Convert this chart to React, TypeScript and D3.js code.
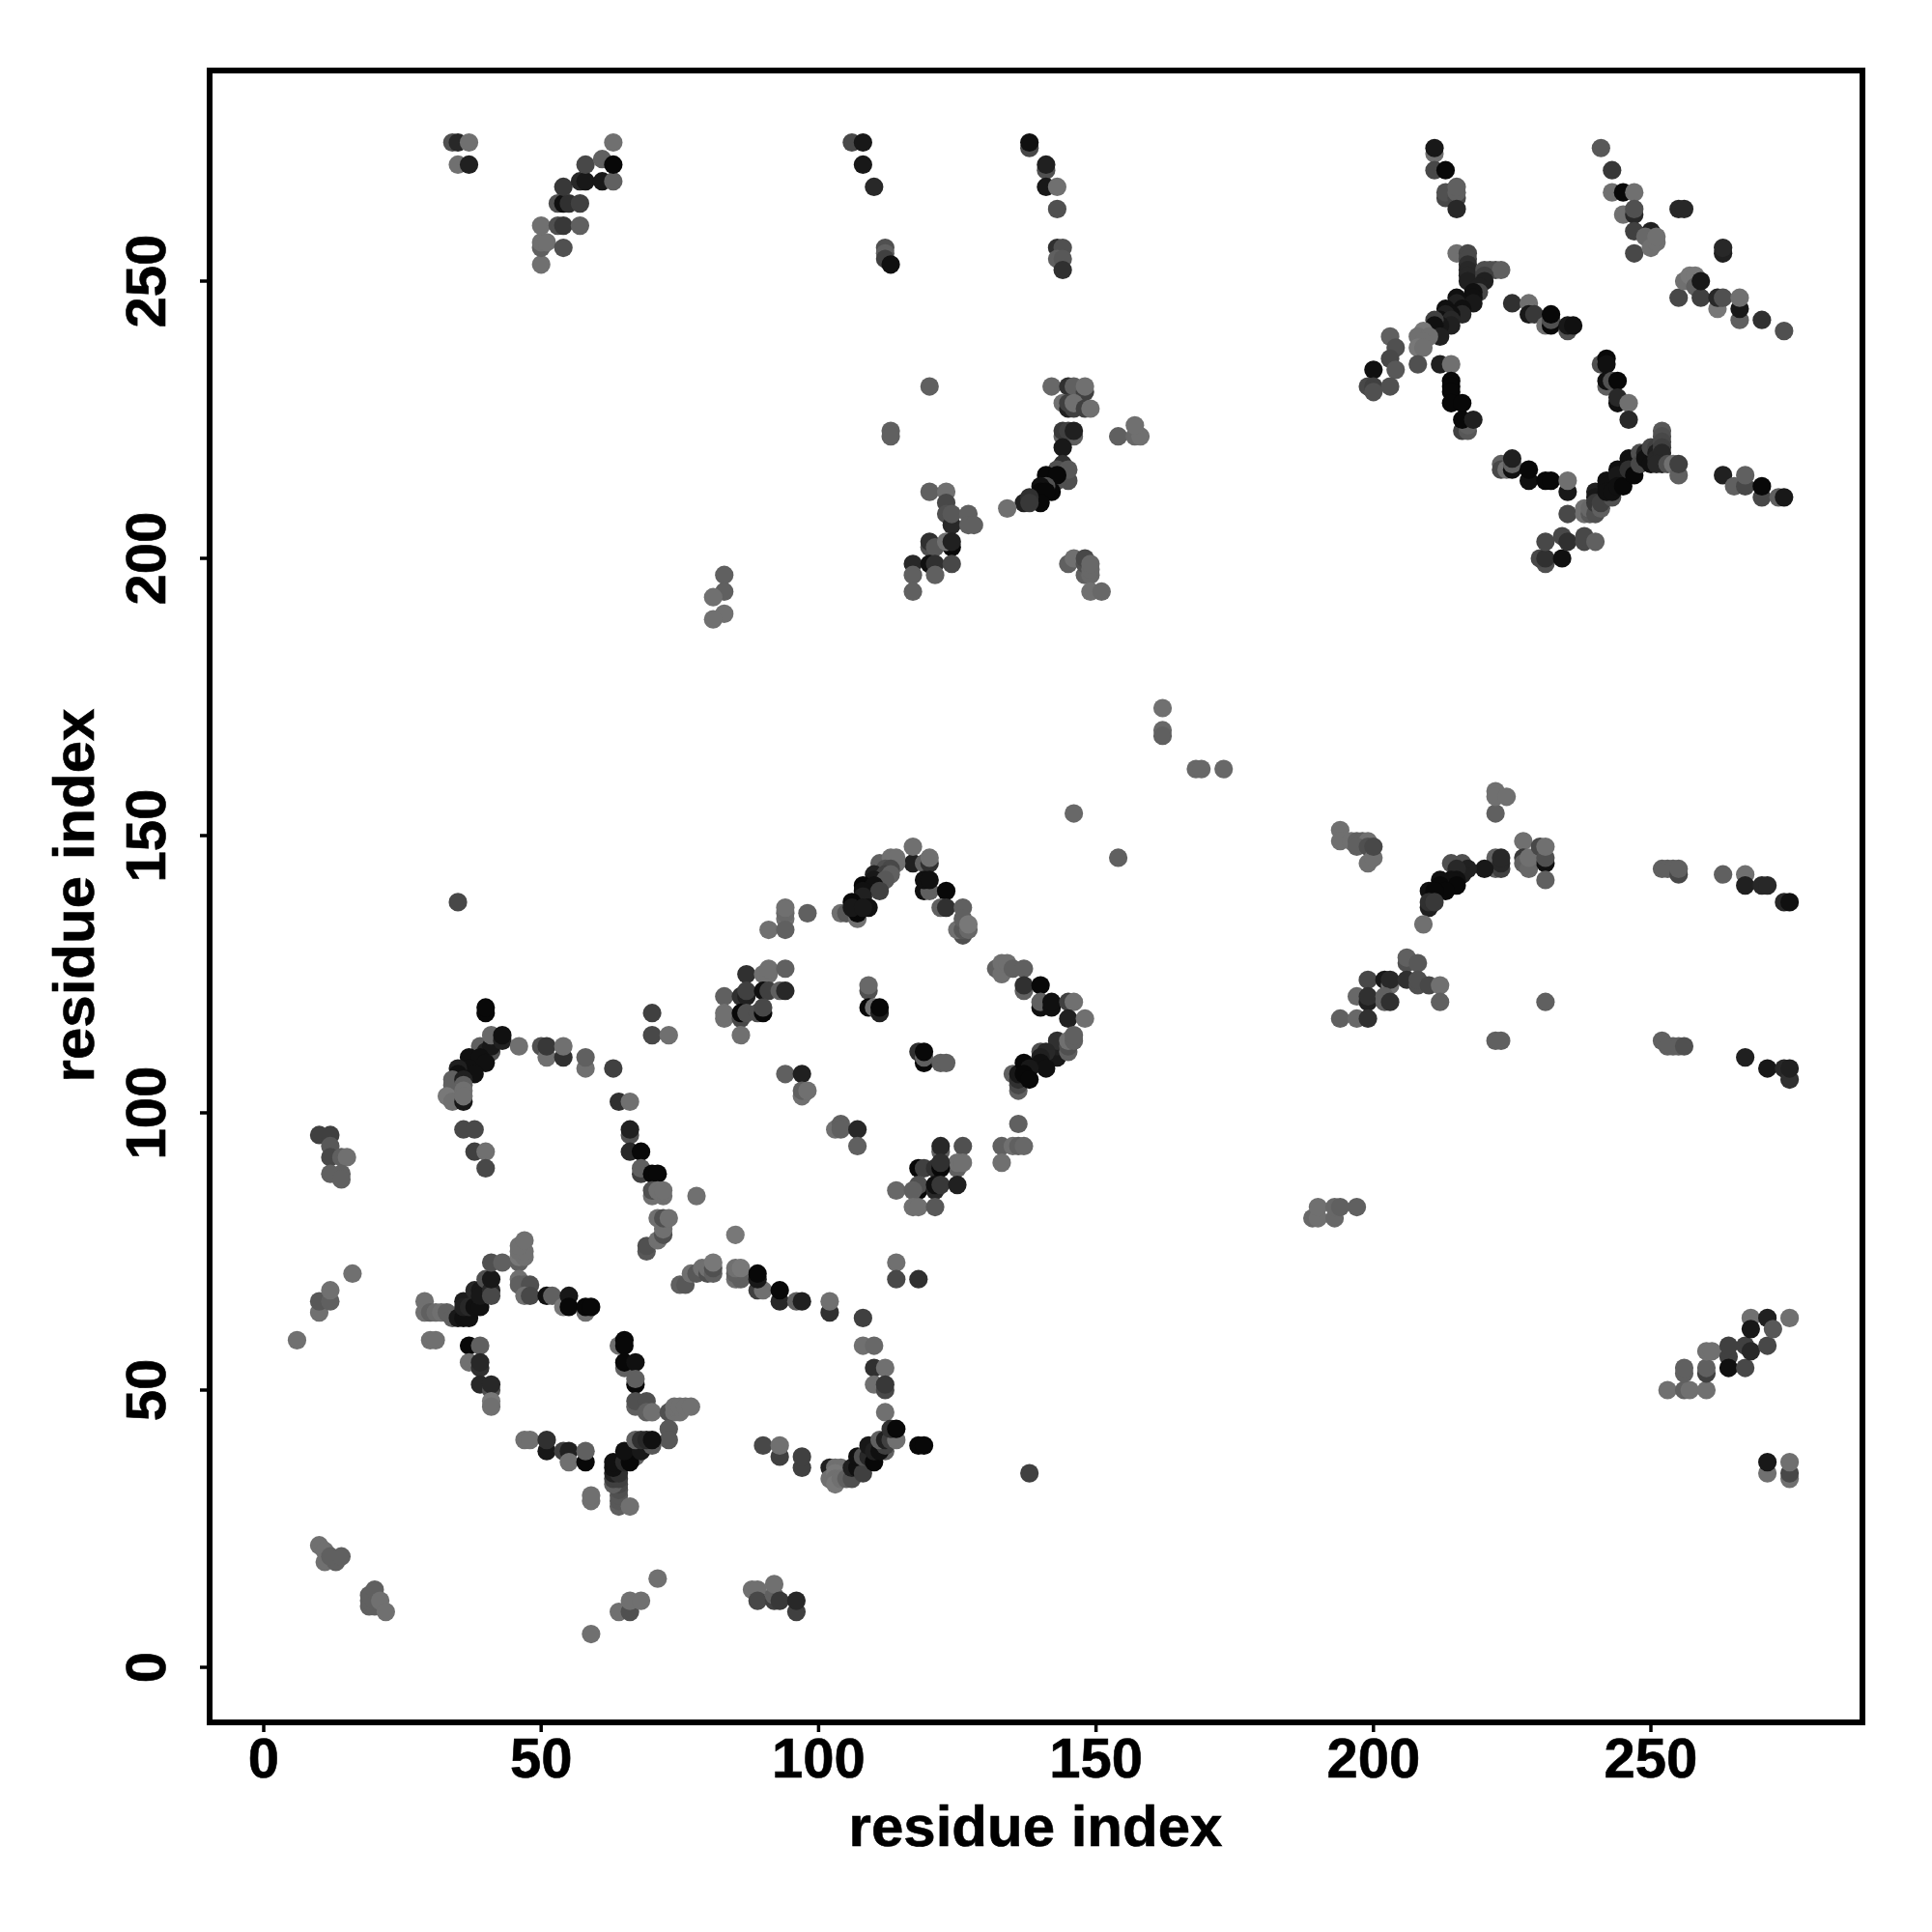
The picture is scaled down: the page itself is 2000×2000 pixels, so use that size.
import React from "react";
import * as d3 from "d3";

type Contact = [number, number, number];

const tickValues = [0, 50, 100, 150, 200, 250];
const xTitle = "residue index";
const yTitle = "residue index";

// [residue x, residue y, grey level]
const ringA: Contact[] = [
[29,66,0x70],[29,64,0x70],[30,64,0x60],[31,64,0x6a],[32,64,0x70],[33,64,0x60],[34,63,0x60],[35,63,0x18],[36,63,0x10],[37,63,0x10],
[36,66,0x1c],[36,65,0x20],[37,65,0x28],[38,65,0x10],[39,65,0x10],[38,68,0x28],[39,68,0x18],[39,67,0x18],[40,70,0x50],[41,68,0x28],[41,67,0x48],[41,70,0x18],
[41,73,0x50],[43,73,0x60],[46,73,0x60],[46,74,0x78],[47,74,0x70],[46,75,0x70],[47,75,0x70],[46,76,0x70],[47,77,0x70],
[46,70,0x70],[46,69,0x60],[47,69,0x60],[48,69,0x50],[47,67,0x70],[48,67,0x48],[51,67,0x10],[52,67,0x60],[54,65,0x78],[55,67,0x18],[55,65,0x08],[58,64,0x70],[58,65,0x08],[59,65,0x08],
[30,59,0x70],[31,59,0x70],[37,58,0x08],[39,58,0x60],[37,55,0x70],[39,54,0x30],[39,55,0x28],[39,51,0x28],[41,50,0x50],[41,51,0x28],[41,48,0x78],[41,47,0x70],
[64,58,0x70],[65,59,0x08],[65,58,0x08],[65,54,0x60],[65,55,0x08],[67,55,0x10],[67,51,0x08],[67,52,0x60],[67,47,0x60],[67,48,0x50],[69,48,0x50],[69,46,0x60],[70,46,0x70],
[73,46,0x50],[74,46,0x70],[75,46,0x70],[74,47,0x70],[75,47,0x70],[76,47,0x70],[77,47,0x70],[73,43,0x58],[73,41,0x58],
[47,41,0x70],[48,41,0x70],[51,39,0x18],[51,41,0x30],[54,39,0x40],[55,39,0x20],[55,37,0x70],[58,37,0x08],[58,39,0x60],[59,30,0x70],[59,31,0x70],
[64,29,0x60],[64,30,0x58],[64,31,0x58],[64,32,0x50],[64,33,0x48],[63,33,0x60],[63,34,0x40],[64,34,0x40],[63,35,0x20],[64,35,0x30],[63,36,0x10],[63,37,0x10],[66,29,0x70],
[65,37,0x28],[67,38,0x60],[66,38,0x20],[66,37,0x08],[65,39,0x10],[68,39,0x18],[67,41,0x60],[70,40,0x58],[68,41,0x30],[69,41,0x28],[70,41,0x10],
[69,75,0x58],[69,76,0x50],[71,77,0x70],[72,78,0x50],[72,79,0x70],[71,81,0x70],[72,81,0x50],[73,81,0x70],[75,69,0x60],[76,69,0x58],[77,71,0x70],[78,71,0x58],[79,72,0x70],[80,71,0x50],[80,72,0x70],
];

const ringB: Contact[] = [
[85,78,0x78],[81,71,0x60],[81,72,0x50],[81,73,0x78],[85,70,0x70],[86,70,0x60],[85,71,0x60],[85,72,0x70],[86,72,0x78],[89,68,0x40],[90,68,0x70],[89,70,0x18],[89,71,0x08],[93,66,0x28],[93,68,0x08],[96,66,0x60],[97,66,0x20],
[102,64,0x30],[102,66,0x70],[108,63,0x40],[108,58,0x70],[110,58,0x68],[110,54,0x30],[112,54,0x70],[110,51,0x70],[112,50,0x48],[112,51,0x38],[112,46,0x70],
[102,36,0x20],[102,34,0x70],[103,36,0x70],[104,36,0x70],[103,35,0x78],[103,34,0x70],[103,33,0x78],[104,34,0x70],[105,34,0x60],[106,34,0x50],[106,36,0x20],[107,36,0x10],[108,35,0x40],
[107,38,0x10],[108,38,0x50],[109,38,0x28],[110,37,0x08],[109,40,0x18],[110,39,0x20],[112,39,0x60],[111,39,0x10],[112,40,0x40],[111,41,0x60],[112,41,0x20],[113,41,0x40],[114,41,0x70],[113,43,0x30],[114,43,0x08],
[90,40,0x48],[93,38,0x40],[93,40,0x70],[97,36,0x40],[97,38,0x40],[114,73,0x70],[114,70,0x48],[118,70,0x30],[118,40,0x08],[119,40,0x08],[138,35,0x40],
];

const ringC: Contact[] = [
[40,118,0x08],[40,119,0x08],[70,118,0x40],[70,114,0x48],[73,114,0x70],
[39,112,0x60],[40,111,0x20],[41,111,0x50],[41,112,0x18],[41,114,0x68],[43,113,0x20],[43,114,0x10],[38,110,0x60],[37,110,0x10],[39,110,0x10],[40,109,0x10],[37,108,0x10],[38,107,0x10],
[35,108,0x20],[35,107,0x10],[34,106,0x60],[34,105,0x60],[33,103,0x78],[34,102,0x70],[36,106,0x20],[36,105,0x60],[36,104,0x70],[36,102,0x18],[36,103,0x70],
[36,97,0x48],[38,97,0x48],[38,93,0x40],[40,93,0x70],[40,90,0x48],[46,112,0x70],[50,112,0x50],[51,110,0x70],[51,112,0x38],[54,110,0x30],[54,112,0x70],[58,108,0x70],[58,110,0x60],[63,108,0x40],
[64,102,0x30],[66,102,0x70],[66,96,0x50],[66,97,0x20],[66,93,0x28],[68,93,0x08],[68,89,0x40],[68,90,0x60],[70,89,0x08],[71,89,0x08],[70,85,0x70],[70,86,0x50],[72,85,0x70],[71,86,0x70],[72,86,0x70],[78,85,0x70],
[10,96,0x40],[12,96,0x40],[12,94,0x58],[12,92,0x48],[14,92,0x60],[15,92,0x70],[12,89,0x60],[14,89,0x60],[14,88,0x60],[35,138,0x48],
];

const ringD: Contact[] = [
[117,145,0x20],[117,148,0x70],[119,145,0x60],[120,145,0x30],[120,146,0x70],[111,145,0x60],[113,145,0x60],[114,145,0x70],[113,146,0x70],[114,146,0x70],[112,144,0x50],[113,144,0x48],[110,143,0x20],[112,143,0x40],[113,143,0x60],
[110,142,0x18],[112,142,0x58],[108,141,0x08],[110,141,0x10],[108,140,0x10],[111,140,0x40],[108,139,0x20],[106,138,0x08],[109,137,0x10],[104,136,0x70],[105,136,0x58],[107,135,0x70],[107,136,0x08],[106,137,0x18],[108,137,0x18],
[94,135,0x70],[94,136,0x68],[94,137,0x70],[98,136,0x60],[91,133,0x70],[94,133,0x60],
[119,140,0x10],[120,140,0x60],[119,142,0x10],[120,142,0x10],[123,140,0x08],[122,137,0x60],[123,137,0x30],[126,137,0x60],[126,132,0x50],[125,133,0x70],[126,133,0x58],[126,135,0x60],[127,133,0x68],[127,134,0x78],
[87,125,0x30],[90,125,0x70],[91,125,0x70],[91,126,0x70],[94,126,0x60],[83,121,0x60],[86,121,0x30],[87,121,0x20],[87,122,0x40],[90,122,0x10],[91,122,0x40],[93,122,0x60],[94,122,0x28],
[83,117,0x70],[83,118,0x70],[86,117,0x48],[86,118,0x08],[87,118,0x50],[89,118,0x50],[90,118,0x08],[90,119,0x48],[86,114,0x70],
[109,122,0x50],[109,123,0x68],[109,119,0x08],[110,119,0x70],[111,118,0x20],[111,119,0x08],[118,111,0x30],[119,109,0x08],[119,110,0x60],[119,111,0x08],[122,109,0x60],[123,109,0x60],
[94,107,0x60],[97,107,0x20],[97,103,0x70],[97,104,0x60],[98,104,0x70],[103,97,0x70],[104,98,0x60],[104,97,0x60],[107,97,0x28],[107,94,0x60],
[122,93,0x60],[122,94,0x28],[126,94,0x50],[125,90,0x60],[125,91,0x70],[126,91,0x70],[118,90,0x08],[119,90,0x40],[121,90,0x30],[122,90,0x08],[122,91,0x30],
[118,86,0x08],[118,87,0x50],[121,86,0x28],[121,87,0x10],[122,87,0x38],[125,87,0x20],[114,86,0x68],[117,86,0x60],[117,83,0x70],[118,83,0x70],[121,83,0x58],
[132,126,0x60],[133,125,0x70],[133,127,0x70],[134,127,0x70],[135,126,0x60],[137,126,0x60],[137,122,0x60],[137,123,0x30],[140,123,0x08],[140,119,0x10],[140,120,0x60],[142,119,0x10],[142,120,0x10],[145,120,0x40],[146,120,0x70],[145,117,0x20],[148,117,0x70],
[143,110,0x18],[143,112,0x20],[143,113,0x30],[145,111,0x60],[145,112,0x50],[145,113,0x70],[146,113,0x60],[146,114,0x60],[140,111,0x50],[141,111,0x28],[140,110,0x20],[140,109,0x10],[141,108,0x10],
[135,107,0x60],[136,104,0x60],[136,105,0x48],[136,106,0x30],[136,107,0x18],[137,109,0x08],[138,108,0x18],[137,107,0x08],[138,106,0x08],
[136,98,0x60],[133,94,0x60],[135,94,0x70],[136,94,0x60],[137,94,0x68],[133,91,0x70],
[146,154,0x68],[154,146,0x60],[162,173,0x70],[162,169,0x68],[162,168,0x60],[168,162,0x68],[169,162,0x68],[173,162,0x68],
];

const ringE: Contact[] = [
[215,255,0x70],[217,255,0x48],[217,254,0x48],[217,253,0x30],[217,252,0x28],[217,251,0x28],[217,250,0x20],[220,252,0x50],[221,252,0x50],[222,252,0x50],[223,252,0x60],[220,251,0x40],[220,250,0x20],[219,249,0x20],[219,248,0x48],[218,248,0x10],
[218,247,0x10],[215,247,0x10],[216,246,0x10],[218,246,0x18],[215,246,0x20],[213,245,0x10],[216,245,0x10],[216,244,0x28],[214,244,0x10],[213,244,0x20],[212,243,0x10],[214,243,0x28],[214,242,0x20],[212,242,0x18],[211,243,0x40],[211,242,0x10],[212,240,0x20],
[209,241,0x78],[208,240,0x70],[210,240,0x70],[209,239,0x70],[208,238,0x78],[209,238,0x70],
[203,240,0x60],[204,238,0x50],[203,236,0x48],[204,234,0x58],[200,234,0x10],[199,231,0x48],[200,231,0x40],[200,230,0x50],[203,231,0x50],[208,235,0x50],[212,235,0x20],[214,235,0x70],[214,232,0x08],[214,231,0x08],[214,230,0x08],[214,228,0x08],[216,228,0x08],
[216,223,0x40],[217,223,0x58],[217,224,0x60],[216,225,0x08],[218,225,0x20],
[225,246,0x30],[228,246,0x70],[228,244,0x18],[229,244,0x38],[231,242,0x70],[232,242,0x08],[232,243,0x50],[232,244,0x08],[235,241,0x50],[235,242,0x18],[236,242,0x10],
[241,235,0x50],[242,236,0x08],[242,235,0x10],[242,231,0x60],[242,232,0x10],[243,232,0x50],[244,232,0x08],[244,228,0x10],[244,229,0x28],[246,228,0x70],[246,225,0x28],
[223,217,0x60],[223,216,0x48],[224,216,0x70],[225,216,0x10],[225,217,0x60],[225,218,0x20],[228,214,0x10],[228,216,0x08],[231,214,0x08],[232,214,0x08],[235,212,0x18],[235,214,0x70],
[235,208,0x48],[238,209,0x70],[238,208,0x70],[239,208,0x58],[239,209,0x68],[240,208,0x50],[240,212,0x20],[240,211,0x18],[240,210,0x38],[241,209,0x60],[241,210,0x40],
[243,211,0x50],[242,214,0x10],[242,213,0x10],[242,212,0x10],[243,212,0x10],[244,216,0x10],[244,215,0x18],[244,213,0x10],[245,213,0x08],[246,218,0x10],[246,217,0x10],[246,216,0x30],[247,215,0x08],
[248,219,0x50],[248,217,0x48],[249,219,0x20],[249,218,0x10],[250,217,0x10],[250,220,0x48],[251,220,0x40],[251,219,0x20],[251,218,0x28],[252,223,0x58],[252,222,0x50],[252,221,0x48],[252,220,0x40],[252,219,0x28],[252,217,0x28],[251,217,0x28],
[253,217,0x50],[254,217,0x70],[255,215,0x60],[255,217,0x40],[263,215,0x20],[265,213,0x60],[267,213,0x48],[267,215,0x60],[270,211,0x48],[270,213,0x08],[273,211,0x60],[274,211,0x18],
[231,199,0x50],[230,200,0x48],[231,200,0x30],[234,200,0x10],[231,203,0x48],[234,204,0x48],[235,203,0x30],[238,203,0x48],[238,204,0x48],[240,203,0x60],
[263,255,0x20],[263,256,0x28],[255,247,0x48],[256,250,0x70],[257,251,0x78],[258,251,0x78],[258,249,0x60],[259,247,0x40],[259,250,0x18],[262,245,0x78],[262,247,0x28],[263,247,0x50],[266,243,0x60],[266,245,0x18],[266,247,0x70],[270,243,0x30],[274,241,0x50],
[211,273,0x70],[211,274,0x18],[211,270,0x48],[213,270,0x08],[213,265,0x48],[213,266,0x50],[215,265,0x48],[215,266,0x60],[215,267,0x60],[215,263,0x28],
[241,274,0x58],[243,270,0x38],[243,266,0x70],[245,266,0x08],[247,266,0x70],[245,262,0x70],[247,262,0x28],[247,263,0x50],[247,259,0x40],[247,255,0x48],[250,259,0x20],[249,258,0x68],[250,256,0x70],[251,257,0x70],[251,258,0x70],[255,263,0x28],[256,263,0x28],
];

const blockUpper: Contact[] = [
[34,275,0x50],[35,275,0x28],[37,275,0x70],[35,271,0x70],[37,271,0x20],
[50,253,0x70],[50,256,0x60],[50,257,0x70],[51,257,0x70],[50,260,0x70],[54,256,0x50],[53,260,0x50],[54,260,0x38],[53,264,0x50],[54,264,0x10],[55,264,0x30],[54,267,0x38],[57,260,0x60],[57,264,0x40],[57,268,0x28],[58,268,0x18],[58,271,0x48],[61,268,0x18],[61,272,0x60],[63,268,0x60],[63,271,0x08],[63,275,0x70],
[106,275,0x48],[108,275,0x18],[108,271,0x18],[110,267,0x28],[112,256,0x50],[112,255,0x60],[112,254,0x40],[113,253,0x10],
[138,274,0x48],[138,275,0x10],[141,270,0x50],[141,271,0x20],[141,267,0x18],[143,267,0x70],[143,263,0x50],[143,256,0x30],[144,256,0x50],[143,254,0x60],[144,254,0x58],[144,252,0x30],
[120,231,0x60],[113,223,0x60],[113,222,0x60],
[142,231,0x68],[145,231,0x30],[146,231,0x60],[148,230,0x40],[148,231,0x70],[144,228,0x70],[145,227,0x20],[145,228,0x40],[146,227,0x40],[146,228,0x70],[148,227,0x40],[149,227,0x70],
[144,222,0x60],[146,222,0x60],[144,223,0x38],[145,223,0x40],[146,223,0x20],[144,220,0x18],[145,214,0x50],[144,217,0x30],[143,216,0x50],[145,216,0x58],[141,215,0x08],[143,214,0x50],[143,215,0x08],
[142,212,0x08],[141,213,0x50],[140,213,0x10],[140,212,0x08],[141,212,0x08],[140,210,0x08],[137,210,0x20],[138,211,0x30],[138,210,0x38],[134,209,0x70],
[154,222,0x60],[157,222,0x68],[158,222,0x70],[157,224,0x70],
[120,212,0x60],[123,212,0x70],[123,210,0x48],[123,208,0x50],[124,206,0x28],[124,208,0x58],[127,208,0x60],[127,206,0x60],[128,206,0x60],
[120,202,0x50],[120,203,0x30],[121,202,0x58],[124,202,0x08],[123,203,0x70],[124,203,0x20],[117,199,0x28],[120,199,0x10],[121,199,0x30],[124,199,0x48],[117,197,0x60],[121,197,0x60],[117,194,0x60],
[145,199,0x60],[146,200,0x70],[148,197,0x60],[148,199,0x50],[148,200,0x48],[149,197,0x68],[149,198,0x68],[149,199,0x68],[149,194,0x70],[151,194,0x68],
[83,197,0x60],[83,194,0x60],[81,193,0x70],[83,190,0x70],[81,189,0x70],
];

const blockRight: Contact[] = [
[222,154,0x60],[222,158,0x70],[222,157,0x70],[224,157,0x70],[194,151,0x70],[194,149,0x70],[196,149,0x70],[197,149,0x60],[198,149,0x60],[199,149,0x70],[197,148,0x60],[199,148,0x50],[199,145,0x70],[200,146,0x70],[200,148,0x48],
[227,149,0x70],[227,146,0x38],[227,145,0x60],[228,144,0x68],[228,146,0x70],[230,148,0x48],[231,145,0x10],[231,146,0x50],[231,148,0x70],[231,142,0x60],
[222,144,0x60],[222,146,0x60],[223,144,0x40],[223,145,0x28],[223,146,0x28],[220,144,0x18],[214,145,0x50],[216,145,0x50],[217,144,0x20],[216,143,0x20],[215,144,0x28],[215,142,0x10],[214,142,0x10],[215,141,0x08],
[212,142,0x10],[212,141,0x08],[213,140,0x08],[210,140,0x10],[211,140,0x08],[210,137,0x20],[210,138,0x30],[211,138,0x38],[209,134,0x70],
[206,127,0x50],[206,128,0x60],[208,127,0x58],[199,124,0x48],[202,124,0x18],[203,123,0x70],[203,124,0x28],[206,124,0x30],[208,123,0x50],[208,124,0x50],[210,123,0x48],[212,123,0x70],
[197,121,0x68],[199,120,0x20],[199,121,0x30],[202,120,0x60],[202,121,0x60],[203,120,0x30],[212,120,0x60],[194,117,0x60],[197,117,0x68],[199,117,0x30],[231,120,0x60],[222,113,0x60],[223,113,0x60],
[189,81,0x68],[190,81,0x70],[190,83,0x70],[193,81,0x68],[193,83,0x68],[194,83,0x60],[197,83,0x60],
[252,144,0x60],[253,144,0x60],[254,144,0x60],[255,143,0x48],[255,144,0x60],[263,143,0x60],[267,143,0x70],[267,141,0x20],[270,141,0x28],[271,141,0x28],[274,138,0x28],[275,138,0x10],
[252,113,0x60],[253,112,0x60],[254,112,0x60],[255,112,0x60],[256,112,0x50],[267,110,0x20],[271,108,0x18],[274,108,0x28],[275,106,0x30],[275,108,0x20],
[253,50,0x70],[256,50,0x60],[257,50,0x70],[256,53,0x60],[256,54,0x60],[260,50,0x70],[260,53,0x40],[260,54,0x60],[260,57,0x70],[261,57,0x70],[264,56,0x40],[264,58,0x40],[264,54,0x10],[267,54,0x48],[267,58,0x40],[268,57,0x28],[268,63,0x70],[268,61,0x18],[271,58,0x48],[271,63,0x20],[272,61,0x58],[275,63,0x70],
[271,35,0x70],[275,34,0x70],[275,35,0x48],[275,37,0x70],[271,37,0x18],
];

const blockLower: Contact[] = [
[6,59,0x70],[10,64,0x70],[10,66,0x58],[12,66,0x60],[12,68,0x70],[16,71,0x70],
[10,22,0x70],[11,21,0x70],[11,19,0x70],[13,19,0x60],[12,20,0x60],[14,20,0x60],[19,11,0x60],[19,12,0x60],[19,13,0x60],[20,11,0x60],[20,12,0x60],[20,14,0x60],[21,12,0x70],[22,10,0x70],
[59,6,0x70],[64,10,0x70],[66,10,0x50],[66,12,0x70],[68,12,0x70],[71,16,0x70],
[88,14,0x70],[89,14,0x70],[89,12,0x48],[92,12,0x40],[92,13,0x60],[92,15,0x70],[93,12,0x38],[96,10,0x40],[96,12,0x28],
];

const contacts: Contact[] = [...ringA, ...ringB, ...ringC, ...ringD, ...ringE, ...blockUpper, ...blockRight, ...blockLower];

const frame = { left: 217, right: 1928, top: 73, bottom: 1783 };
const x = d3.scaleLinear().domain([0, 250]).range([273, 1709]);
const y = d3.scaleLinear().domain([0, 250]).range([1726, 291]);
const font = "'Liberation Sans', Arial, sans-serif";

export default function App() {
  return (
    <svg width={2000} height={2000} style={{ position: "absolute", left: 0, top: 0, background: "#fff" }}>
      {contacts.map(([a, b, g], i) => (
        <circle key={i} cx={x(a)} cy={y(b)} r={9.6} fill={d3.rgb(g, g, g).formatHex()} />
      ))}
      <rect x={frame.left} y={frame.top} width={frame.right - frame.left} height={frame.bottom - frame.top} fill="none" stroke="#000" strokeWidth={6} />
      {tickValues.map((t) => (
        <g key={t}>
          <line x1={x(t)} x2={x(t)} y1={frame.bottom} y2={frame.bottom + 10} stroke="#000" strokeWidth={3.5} />
          <text x={x(t)} y={1840} textAnchor="middle" fontFamily={font} fontWeight="bold" fontSize={58} stroke="#000" strokeWidth={0.6}>{t}</text>
          <line x1={frame.left} x2={frame.left - 10} y1={y(t)} y2={y(t)} stroke="#000" strokeWidth={3.5} />
          <text transform={`translate(171,${y(t)}) rotate(-90)`} textAnchor="middle" fontFamily={font} fontWeight="bold" fontSize={58} stroke="#000" strokeWidth={0.6}>{t}</text>
        </g>
      ))}
      <text x={1072} y={1911} textAnchor="middle" fontFamily={font} fontWeight="bold" fontSize={60} stroke="#000" strokeWidth={0.6}>{xTitle}</text>
      <text transform="translate(97,927) rotate(-90)" textAnchor="middle" fontFamily={font} fontWeight="bold" fontSize={60} stroke="#000" strokeWidth={0.6}>{yTitle}</text>
    </svg>
  );
}
